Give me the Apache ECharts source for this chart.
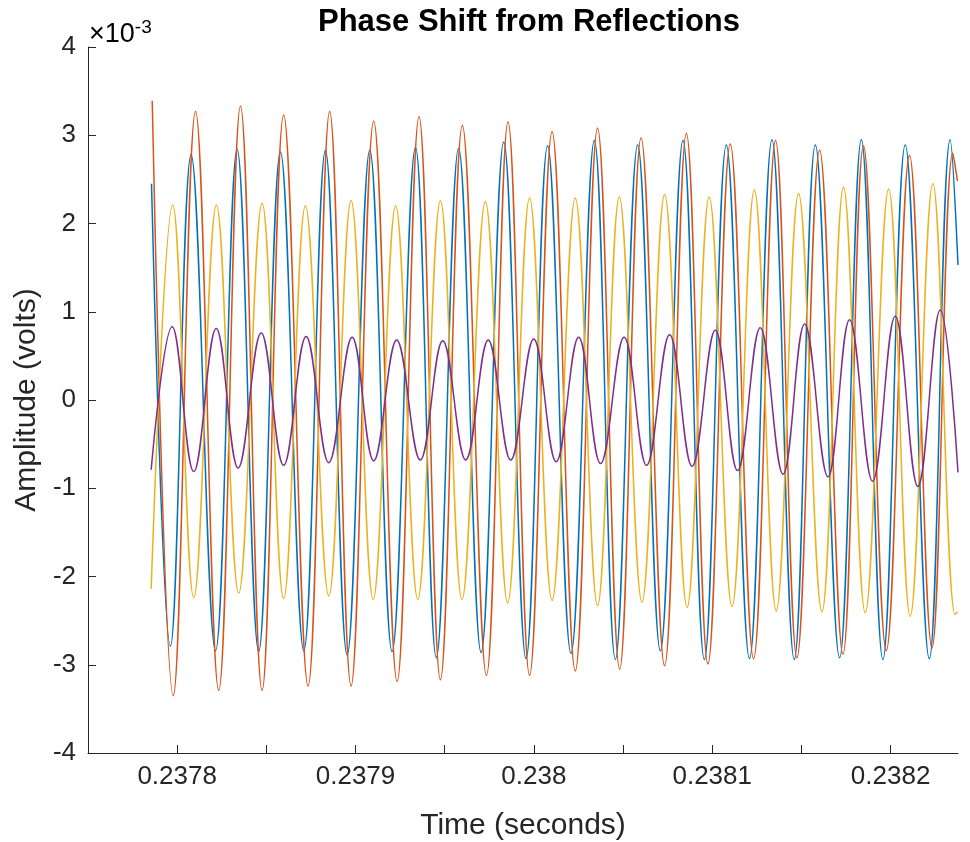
<!DOCTYPE html>
<html>
<head>
<meta charset="utf-8">
<script src="https://cdn.jsdelivr.net/npm/echarts@6/dist/echarts.min.js"></script>
<style>
  html, body { margin: 0; padding: 0; background: #fff; }
  #chart { width: 970px; height: 842px; }
</style>
</head>
<body>
<div id="chart"></div>
<script>
// time of each extreme (s) and amplitude (x 1e-3 V)
var blueT = [0.2377856, 0.2377962, 0.2378078, 0.2378215, 0.2378336, 0.2378457, 0.2378579, 0.2378710, 0.2378831, 0.2378953,
  0.2379080, 0.2379205, 0.2379336, 0.2379453, 0.2379578, 0.2379704, 0.2379831, 0.2379956, 0.2380077, 0.2380208,
  0.2380339, 0.2380457, 0.2380582, 0.2380709, 0.2380836, 0.2380956, 0.2381079, 0.2381209, 0.2381335, 0.2381460,
  0.2381578, 0.2381714, 0.2381836, 0.2381957, 0.2382082, 0.2382217, 0.2382334, 0.2382378];
var blueV = [2.45, -2.79, 2.78, -2.84, 2.84, -2.85, 2.81, -2.84, 2.83, -2.89,
  2.83, -2.85, 2.86, -2.92, 2.85, -2.86, 2.92, -2.93, 2.88, -2.87,
  2.94, -2.94, 2.89, -2.84, 2.94, -2.94, 2.89, -2.93, 2.95, -2.94,
  2.89, -2.92, 2.95, -2.94, 2.89, -2.93, 2.95, 1.53];

var orangeT = [0.2377860, 0.2377978, 0.2378103, 0.2378233, 0.2378355, 0.2378476, 0.2378597, 0.2378734, 0.2378855, 0.2378975,
  0.2379102, 0.2379233, 0.2379356, 0.2379476, 0.2379599, 0.2379734, 0.2379855, 0.2379976, 0.2380102, 0.2380232,
  0.2380357, 0.2380481, 0.2380601, 0.2380733, 0.2380855, 0.2380976, 0.2381101, 0.2381232, 0.2381355, 0.2381475,
  0.2381602, 0.2381733, 0.2381848, 0.2381976, 0.2382106, 0.2382232, 0.2382349, 0.2382375];
var orangeV = [3.39, -3.35, 3.27, -3.29, 3.33, -3.29, 3.23, -3.24, 3.27, -3.24,
  3.16, -3.19, 3.21, -3.17, 3.11, -3.12, 3.15, -3.12, 3.04, -3.07,
  3.08, -3.05, 2.97, -3.01, 3.02, -2.99, 2.90, -2.93, 2.94, -2.92,
  2.83, -2.88, 2.88, -2.84, 2.77, -2.81, 2.80, 2.48];

var yellowT = [0.2377854, 0.2377975, 0.2378093, 0.2378220, 0.2378345, 0.2378476, 0.2378597, 0.2378719, 0.2378850, 0.2378975,
  0.2379099, 0.2379225, 0.2379349, 0.2379476, 0.2379597, 0.2379728, 0.2379853, 0.2379976, 0.2380102, 0.2380232,
  0.2380357, 0.2380479, 0.2380606, 0.2380733, 0.2380859, 0.2380983, 0.2381111, 0.2381236, 0.2381359, 0.2381484,
  0.2381615, 0.2381736, 0.2381858, 0.2381989, 0.2382110, 0.2382237, 0.2382362, 0.2382375];
var yellowV = [-2.14, 2.21, -2.24, 2.21, -2.19, 2.23, -2.25, 2.20, -2.22, 2.26,
  -2.26, 2.20, -2.26, 2.26, -2.26, 2.25, -2.30, 2.29, -2.27, 2.29,
  -2.33, 2.30, -2.29, 2.33, -2.35, 2.30, -2.34, 2.38, -2.39, 2.34,
  -2.40, 2.41, -2.41, 2.39, -2.45, 2.45, -2.43, -2.40];

var purpleT = [0.2377854, 0.2377972, 0.2378093, 0.2378219, 0.2378342, 0.2378471, 0.2378597, 0.2378723, 0.2378850, 0.2378981,
  0.2379102, 0.2379231, 0.2379363, 0.2379489, 0.2379618, 0.2379744, 0.2379870, 0.2379999, 0.2380125, 0.2380251,
  0.2380374, 0.2380506, 0.2380632, 0.2380761, 0.2380887, 0.2381017, 0.2381142, 0.2381269, 0.2381397, 0.2381518,
  0.2381649, 0.2381770, 0.2381899, 0.2382026, 0.2382153, 0.2382278, 0.2382378];
var purpleV = [-0.79, 0.83, -0.81, 0.81, -0.77, 0.76, -0.74, 0.72, -0.71, 0.71,
  -0.69, 0.68, -0.68, 0.67, -0.68, 0.68, -0.68, 0.69, -0.70, 0.71,
  -0.72, 0.71, -0.74, 0.74, -0.75, 0.79, -0.80, 0.82, -0.84, 0.86,
  -0.87, 0.91, -0.92, 0.95, -0.98, 1.02, -0.82];

var xTicks = [0.2378, 0.23785, 0.2379, 0.23795, 0.238, 0.23805, 0.2381, 0.23815, 0.2382];
var xLabels = [0.2378, 0.2379, 0.238, 0.2381, 0.2382];

function pairs(t, v) {
  var out = [];
  for (var i = 0; i < t.length; i++) out.push([t[i], v[i]]);
  return out;
}

var axisColor = '#262626';
var font = '"Liberation Sans", Arial, Helvetica, sans-serif';

function wave(name, color, t, v) {
  return {
    name: name,
    type: 'line',
    data: pairs(t, v),
    showSymbol: false,
    smooth: 0.4,
    lineStyle: { color: color, width: 1.5 },
    itemStyle: { color: color },
    z: 2
  };
}

var myChart = echarts.init(document.getElementById('chart'));
var option = {
  animation: false,
  backgroundColor: '#fff',
  grid: { left: 88, right: 12, top: 47, bottom: 89, outerBoundsMode: 'none', containLabel: false },
  graphic: [
    {
      type: 'text', x: 529, y: 22,
      style: {
        text: 'Phase Shift from Reflections', fill: '#000',
        font: 'bold 31px ' + font, textAlign: 'center', textVerticalAlign: 'middle'
      }
    },
    {
      type: 'text', x: 89, y: 35,
      style: {
        text: '{a|\u00d710}{b|-3}',
        textVerticalAlign: 'middle',
        rich: {
          a: { fontSize: 27, fontFamily: font, color: axisColor },
          b: { fontSize: 19, fontFamily: font, color: axisColor, verticalAlign: 'top', padding: [0, 0, 14, 0] }
        }
      }
    }
  ],
  xAxis: {
    type: 'value',
    min: 0.23775,
    max: 0.2382378,
    name: 'Time (seconds)',
    nameLocation: 'middle',
    nameGap: 58,
    nameTextStyle: { fontSize: 30, fontFamily: font, color: axisColor },
    axisLine: { onZero: false, lineStyle: { color: axisColor, width: 1 } },
    axisTick: { inside: true, length: 8, customValues: xTicks, lineStyle: { color: axisColor } },
    axisLabel: {
      customValues: xLabels, margin: 11, fontSize: 26, fontFamily: font, color: axisColor,
      formatter: function (v) { return String(+v.toFixed(4)); }
    },
    splitLine: { show: false }
  },
  yAxis: {
    type: 'value',
    min: -4,
    max: 4,
    interval: 1,
    name: 'Amplitude (volts)',
    nameLocation: 'middle',
    nameGap: 42,
    nameTextStyle: { fontSize: 30, fontFamily: font, color: axisColor },
    axisLine: { show: true, onZero: false, lineStyle: { color: axisColor, width: 1 } },
    axisTick: { show: true, inside: true, length: 8, lineStyle: { color: axisColor } },
    axisLabel: { margin: 12, fontSize: 26, fontFamily: font, color: axisColor },
    splitLine: { show: false }
  },
  series: [
    wave('Ch1', '#0072BD', blueT, blueV),
    wave('Ch2', '#D95319', orangeT, orangeV),
    wave('Ch3', '#EDB120', yellowT, yellowV),
    wave('Ch4', '#7E2F8E', purpleT, purpleV)
  ]
};
myChart.setOption(option);
</script>
</body>
</html>
